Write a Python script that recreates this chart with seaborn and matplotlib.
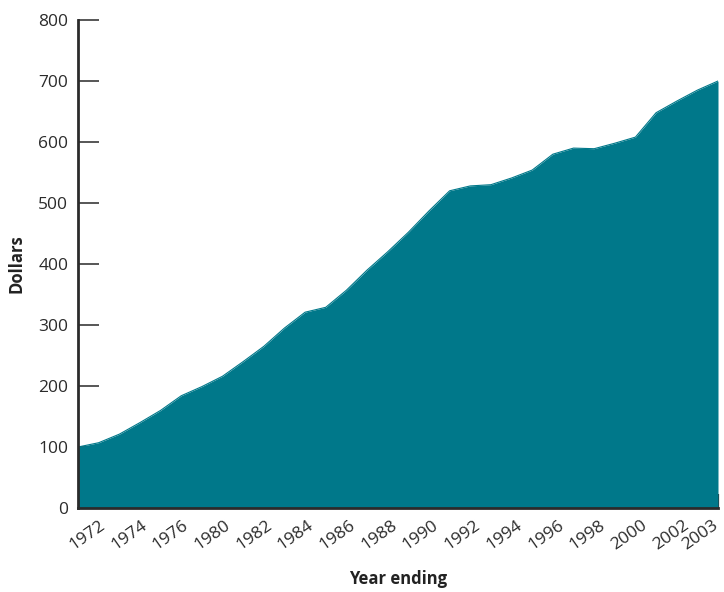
import numpy as np
import pandas as pd
import matplotlib
matplotlib.use("Agg")
import matplotlib.pyplot as plt
import matplotlib.transforms as mtransforms
import seaborn as sns

# Annual dollar values, year ending 1972 through 2003
years = list(range(1972, 2004))
dollars = [100, 107, 121, 140, 160, 184, 199, 216, 240, 265, 295, 321,
           329, 357, 390, 420, 452, 487, 520, 528, 530, 541, 554, 580,
           590, 589, 598, 608, 648, 667, 685, 700]

# Axis tick labels as printed on the chart
x_tick_labels = ["1972", "1974", "1976", "1980", "1982", "1984", "1986",
                 "1988", "1990", "1992", "1994", "1996", "1998", "2000",
                 "2002", "2003"]
y_ticks = [0, 100, 200, 300, 400, 500, 600, 700, 800]

TEAL = "#00788a"
DARK = "#2b2b2b"

sns.set_theme(style="white")
plt.rcParams["font.family"] = ["Open Sans", "DejaVu Sans"]

df = pd.DataFrame({"year": years, "dollars": dollars})

fig = plt.figure(figsize=(7.24, 5.92), dpi=100)
ax = fig.add_axes([78 / 724, 1 - 508 / 592, 640 / 724, 488 / 592])

sns.lineplot(data=df, x="year", y="dollars", ax=ax, color=TEAL, linewidth=0.8)
ax.fill_between(df["year"], df["dollars"], 0, color=TEAL, linewidth=0)

x0, x1 = years[0], years[-1]
ax.set_xlim(x0, x1)
ax.set_ylim(0, 800)

# Evenly spaced category ticks, last one at the right edge
n_even = len(x_tick_labels) - 1
step = (x1 - x0) * 41.7 / 640
first = x0 + (x1 - x0) * 21 / 640
tick_pos = [first + i * step for i in range(n_even)] + [x1]
ax.set_xticks(tick_pos)
ax.set_xticklabels(x_tick_labels, rotation=35, ha="right",
                   rotation_mode="anchor", fontsize=12.5, color=DARK)
ax.set_yticks(y_ticks)
ax.set_yticklabels([str(v) for v in y_ticks], fontsize=12.5, color=DARK)

ax.tick_params(axis="x", direction="in", length=10, width=1.6, color=DARK,
               pad=7, bottom=True)
ax.tick_params(axis="y", direction="in", length=15, width=1.2, color="#3a3a3a",
               pad=7, left=True)

# Nudge the last label left so it stays inside the figure
last = ax.get_xticklabels()[-1]
last.set_transform(last.get_transform() +
                   mtransforms.ScaledTranslation(-6 / 100, 0, fig.dpi_scale_trans))

for side in ["top", "right"]:
    ax.spines[side].set_visible(False)
for side in ["left", "bottom"]:
    ax.spines[side].set_color(DARK)
    ax.spines[side].set_linewidth(2)
    ax.spines[side].set_zorder(5)

ax.set_xlabel("Year ending", fontsize=12, fontweight="bold", color="#222222",
              labelpad=12)
ax.set_ylabel("Dollars", fontsize=12, fontweight="bold", color="#222222",
              labelpad=9)
ax.grid(False)

fig.savefig("out.png", dpi=100)
